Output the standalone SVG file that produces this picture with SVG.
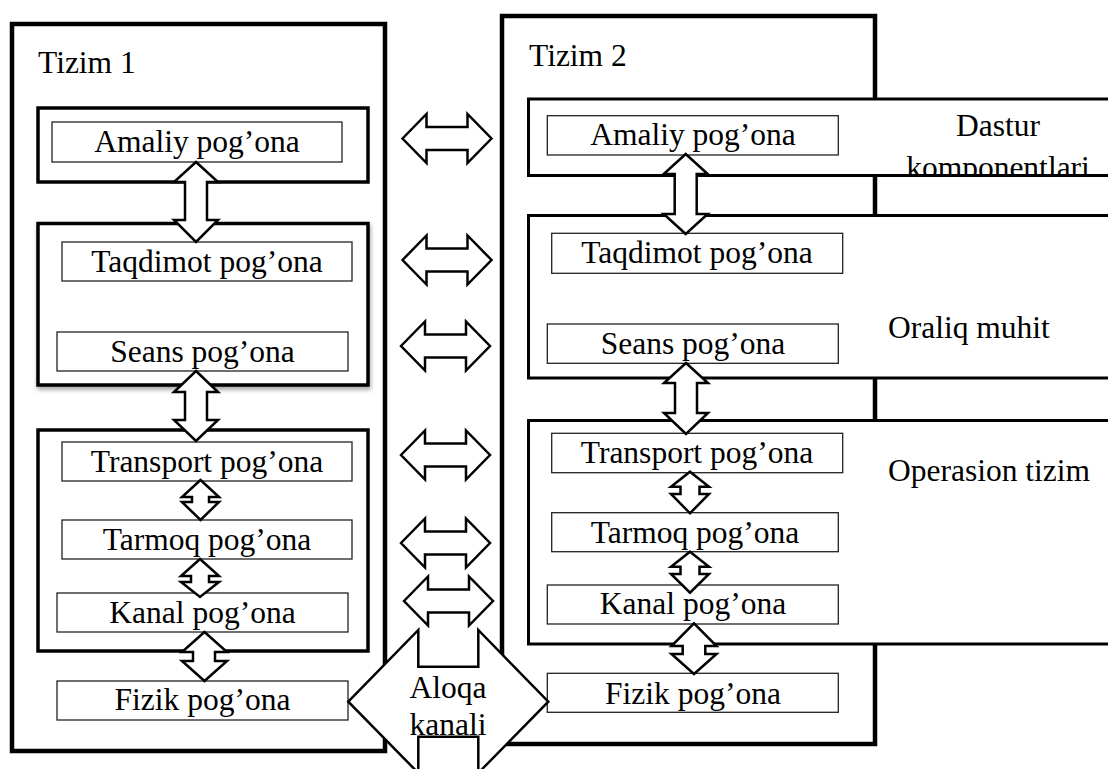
<svg xmlns="http://www.w3.org/2000/svg" width="1108" height="769" viewBox="0 0 1108 769">
<style>
.sys{fill:#fff;stroke:#000;stroke-width:4.5}
.lay{fill:#fff;stroke:#000;stroke-width:3.5}
.lay2{fill:#fff;stroke:#000;stroke-width:3}
.box{fill:#fff;stroke:#222;stroke-width:1.3}
.arr{fill:#fff;stroke:#000;stroke-width:2.5;stroke-linejoin:miter}
text{font-family:"Liberation Serif","Times New Roman",serif;font-size:31.5px;fill:#000}
.c{text-anchor:middle}
</style>
<defs>
<path id="harr" d="M-44.5,0 L-20.5,-24.5 L-20.5,-11.5 L20.5,-11.5 L20.5,-24.5 L44.5,0 L20.5,24.5 L20.5,11.5 L-20.5,11.5 L-20.5,24.5 Z"/>
<filter id="sh" x="-10%" y="-10%" width="120%" height="130%">
<feDropShadow dx="1" dy="3" stdDeviation="2" flood-color="#000" flood-opacity="0.35"/>
</filter>
<clipPath id="dclip"><rect x="530" y="100" width="600" height="74"/></clipPath>
</defs>

<g id="tizim1">
<rect class="sys" x="12" y="24" width="373" height="727"/>
<text x="38" y="73">Tizim 1</text>
</g>
<g id="tizim2">
<rect class="sys" x="502" y="16" width="373" height="728"/>
<text x="529" y="66">Tizim 2</text>
</g>

<g id="t1-app">
<rect class="lay" x="38" y="108" width="330" height="74"/>
<rect class="box" x="52" y="122" width="290" height="40"/>
<text class="c" x="197" y="152">Amaliy pog’ona</text>
</g>
<g id="t1-mid">
<rect class="lay" x="38" y="223.5" width="330" height="161.5" filter="url(#sh)"/>
<rect class="box" x="62" y="242" width="290" height="39"/>
<text class="c" x="207" y="272">Taqdimot pog’ona</text>
<rect class="box" x="57" y="332" width="291" height="39"/>
<text class="c" x="202.5" y="362">Seans pog’ona</text>
</g>
<g id="t1-os">
<rect class="lay" x="38" y="430" width="330" height="221"/>
<rect class="box" x="62" y="442" width="290" height="39"/>
<text class="c" x="207" y="472">Transport pog’ona</text>
<rect class="box" x="62" y="520" width="290" height="39"/>
<text class="c" x="207" y="550">Tarmoq pog’ona</text>
<rect class="box" x="57" y="593" width="291" height="39"/>
<text class="c" x="202.5" y="623">Kanal pog’ona</text>
</g>
<g id="t1-fizik">
<rect class="box" x="57" y="681" width="291" height="39"/>
<text class="c" x="202.5" y="710">Fizik pog’ona</text>
</g>

<g id="t2-app">
<rect class="lay2" x="528.5" y="99" width="600" height="76.5"/>
<rect class="box" x="547.3" y="115.7" width="291" height="39.3"/>
<text class="c" x="693" y="145">Amaliy pog’ona</text>
<text class="c" x="998" y="136">Dastur</text>
<text class="c" x="998" y="178" clip-path="url(#dclip)">komponentlari</text>
</g>
<g id="t2-mid">
<rect class="lay2" x="528.5" y="215.5" width="600" height="162.5"/>
<rect class="box" x="551.7" y="233.3" width="291" height="40"/>
<text class="c" x="697" y="263">Taqdimot pog’ona</text>
<rect class="box" x="547.3" y="324" width="291" height="39.3"/>
<text class="c" x="693" y="354">Seans pog’ona</text>
<text x="888" y="338">Oraliq muhit</text>
</g>
<g id="t2-os">
<rect class="lay2" x="528.5" y="420.5" width="600" height="223.5"/>
<rect class="box" x="551.7" y="433.3" width="291" height="39.4"/>
<text class="c" x="697" y="463">Transport pog’ona</text>
<rect class="box" x="551.7" y="512.7" width="286.6" height="39"/>
<text class="c" x="695" y="543">Tarmoq pog’ona</text>
<rect class="box" x="547.3" y="585" width="291" height="39"/>
<text class="c" x="693" y="614">Kanal pog’ona</text>
<text x="888" y="481">Operasion tizim</text>
</g>
<g id="t2-fizik">
<rect class="box" x="547.3" y="673.3" width="291" height="39"/>
<text class="c" x="693" y="704">Fizik pog’ona</text>
</g>

<g id="connectors">
<polygon class="arr" points="196,162 218,182 207,182 207,220 218,220 196,242 174,220 185,220 185,182 174,182"/>
<polygon class="arr" points="196,371 218,392 207,392 207,420 218,420 196,441 174,420 185,420 185,392 174,392"/>
<polygon class="arr" points="200.5,480 219,497 209,497 209,502 219,502 200.5,520 182,502 192,502 192,497 182,497"/>
<polygon class="arr" points="200,559 219,576 209,576 209,582 219,582 200,597 181,582 191,582 191,576 181,576"/>
<polygon class="arr" points="204.5,632 227,652 215,652 215,661 227,661 204.5,681 182,661 193,661 193,652 182,652"/>

<polygon class="arr" points="685.7,154 707.7,174 696.7,174 696.7,214 707.7,214 685.7,234 663.7,214 674.7,214 674.7,174 663.7,174"/>
<polygon class="arr" points="686,363 708,383 697,383 697,413 708,413 686,434 664,413 675,413 675,383 664,383"/>
<polygon class="arr" points="690,471.7 709,486.7 699.5,486.7 699.5,494 709,494 690,513.3 671,494 680.5,494 680.5,486.7 671,486.7"/>
<polygon class="arr" points="690,551.7 709,566.7 699.5,566.7 699.5,574 709,574 690,592.7 671,574 680.5,574 680.5,566.7 671,566.7"/>
<polygon class="arr" points="694,623.3 716.5,646 705.3,646 705.3,654 716.5,654 694,674 671.5,654 682.7,654 682.7,646 671.5,646"/>

<use href="#harr" class="arr" x="447" y="138.5"/>
<use href="#harr" class="arr" x="447" y="260"/>
<use href="#harr" class="arr" x="445.5" y="346"/>
<use href="#harr" class="arr" x="445.5" y="455"/>
<use href="#harr" class="arr" x="445.5" y="543"/>
<use href="#harr" class="arr" x="448.5" y="601"/>
</g>

<g id="aloqa">
<polygon class="arr" points="348.3,701.7 418.3,630 418.3,666.7 478.3,666.7 478.3,630 548.3,701.7 478.3,773 478.3,736.7 418.3,736.7 418.3,773"/>
<text class="c" x="448" y="698">Aloqa</text>
<text class="c" x="448" y="735">kanali</text>
</g>
</svg>
